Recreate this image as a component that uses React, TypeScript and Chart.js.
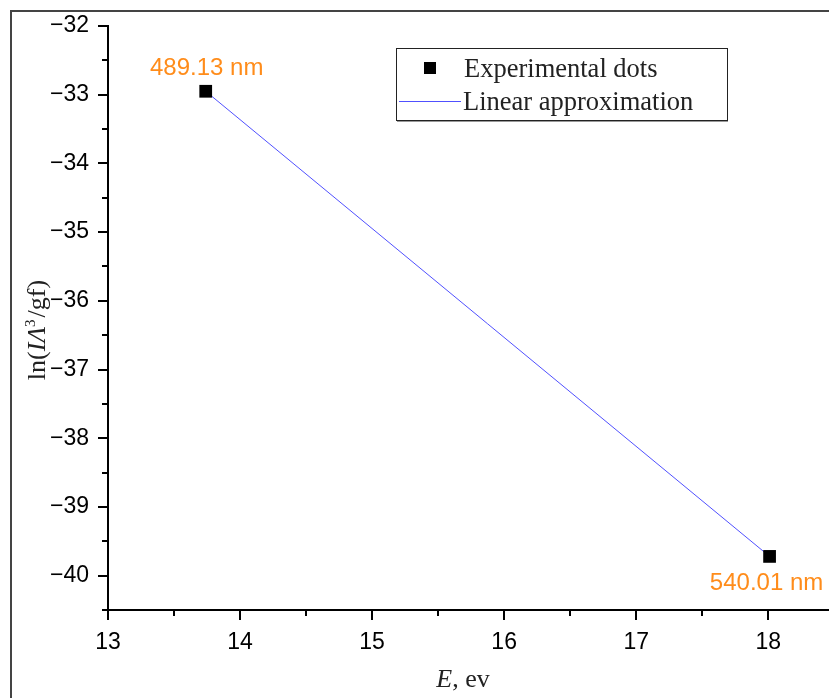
import React, { useEffect, useRef } from "react";
import { Chart, registerables } from "chart.js";

Chart.register(...registerables);

const energies = [13.74, 18.01];
const lnValues = [-32.95, -39.72];
const pointLabels = ["489.13 nm", "540.01 nm"];
const fitX = [13.74, 18.01];
const fitY = [-32.95, -39.72];
const xTicks = [13, 14, 15, 16, 17, 18];
const yTicks = [-40, -39, -38, -37, -36, -35, -34, -33, -32];
const xMinor = [13.5, 14.5, 15.5, 16.5, 17.5];
const yMinor = [-40.5, -39.5, -38.5, -37.5, -36.5, -35.5, -34.5, -33.5, -32.5];
const legendLabels = ["Experimental dots", "Linear approximation"];

const SANS = "'Liberation Sans', Arial, sans-serif";
const SERIF = "'Liberation Serif', 'Times New Roman', serif";
const ORANGE = "#ff8c1a";
const BLUE = "rgb(80,80,255)";

const decor = {
  id: "decor",
  afterDraw(chart: any) {
    const ctx = chart.ctx;
    const xs = chart.scales.x;
    const ys = chart.scales.y;
    const area = chart.chartArea;
    ctx.save();
    // outer frame
    ctx.strokeStyle = "#444";
    ctx.lineWidth = 2;
    ctx.strokeRect(11, 11, 900, 800);
    // minor ticks
    ctx.strokeStyle = "#000";
    ctx.lineWidth = 2;
    ctx.beginPath();
    xMinor.forEach((v) => {
      const px = Math.round(xs.getPixelForValue(v));
      ctx.moveTo(px, area.bottom);
      ctx.lineTo(px, area.bottom + 6);
    });
    yMinor.forEach((v) => {
      const py = Math.round(ys.getPixelForValue(v));
      ctx.moveTo(area.left, py);
      ctx.lineTo(area.left - 6, py);
    });
    ctx.stroke();
    // point labels
    ctx.fillStyle = ORANGE;
    ctx.font = `24px ${SANS}`;
    ctx.textAlign = "center";
    ctx.textBaseline = "alphabetic";
    energies.forEach((e, i) => {
      const px = xs.getPixelForValue(e);
      const py = ys.getPixelForValue(lnValues[i]);
      if (i === 0) ctx.fillText(pointLabels[i], px + 1, py - 16);
      else ctx.fillText(pointLabels[i], px - 3, py + 34);
    });
    // legend
    ctx.fillStyle = "#fff";
    ctx.fillRect(396, 48, 331, 72);
    ctx.strokeStyle = "#222";
    ctx.lineWidth = 1;
    ctx.strokeRect(396.5, 48.5, 331, 72);
    ctx.strokeStyle = "#999";
    ctx.beginPath();
    ctx.moveTo(397, 121.5);
    ctx.lineTo(728, 121.5);
    ctx.stroke();
    ctx.fillStyle = "#000";
    ctx.fillRect(424, 62, 12, 12);
    ctx.strokeStyle = BLUE;
    ctx.lineWidth = 1;
    ctx.beginPath();
    ctx.moveTo(399, 101.5);
    ctx.lineTo(461, 101.5);
    ctx.stroke();
    ctx.fillStyle = "#222";
    ctx.font = `26.5px ${SERIF}`;
    ctx.textAlign = "left";
    ctx.fillText(legendLabels[0], 464, 77);
    ctx.fillText(legendLabels[1], 463, 110);
    // x title
    ctx.fillStyle = "#222";
    ctx.font = `italic 26px ${SERIF}`;
    const eW = ctx.measureText("E").width;
    ctx.font = `26px ${SERIF}`;
    const restW = ctx.measureText(", ev").width;
    const sx = 463 - (eW + restW) / 2;
    ctx.font = `italic 26px ${SERIF}`;
    ctx.fillText("E", sx, 687);
    ctx.font = `26px ${SERIF}`;
    ctx.fillText(", ev", sx + eW, 687);
    // y title
    ctx.translate(45, 330);
    ctx.rotate(-Math.PI / 2);
    const parts: [string, string, number][] = [
      ["ln(", `26px ${SERIF}`, 0],
      ["IΛ", `italic 26px ${SERIF}`, 0],
      ["3", `15px ${SERIF}`, -10],
      ["/gf)", `26px ${SERIF}`, 0],
    ];
    let total = 0;
    parts.forEach((p) => {
      ctx.font = p[1];
      total += ctx.measureText(p[0]).width + (p[0] === "3" ? 2 : 0);
    });
    let cx = -total / 2;
    parts.forEach((p) => {
      ctx.font = p[1];
      ctx.fillText(p[0], cx, p[2]);
      cx += ctx.measureText(p[0]).width + (p[0] === "3" ? 2 : 0);
    });
    ctx.restore();
  },
};

export default function App() {
  const ref = useRef<HTMLCanvasElement | null>(null);
  useEffect(() => {
    if (!ref.current) return;
    const tickFont = { family: SANS, size: 23 };
    const chart = new Chart(ref.current, {
      type: "scatter",
      data: {
        datasets: [
          {
            label: legendLabels[0],
            data: energies.map((x, i) => ({ x, y: lnValues[i] })),
            pointStyle: "rect",
            pointRadius: 9,
            pointHoverRadius: 9,
            backgroundColor: "#000",
            borderColor: "#000",
            borderWidth: 0,
            showLine: false,
            order: 1,
          },
          {
            label: legendLabels[1],
            data: fitX.map((x, i) => ({ x, y: fitY[i] })),
            showLine: true,
            pointRadius: 0,
            borderColor: BLUE,
            borderWidth: 1,
            order: 2,
          } as any,
        ],
      },
      options: {
        animation: false,
        responsive: false,
        layout: { autoPadding: false, padding: { left: 0, top: 26, right: 0, bottom: 0 } },
        plugins: { legend: { display: false }, tooltip: { enabled: false } },
        scales: {
          x: {
            type: "linear",
            min: 13,
            max: 18.46,
            afterBuildTicks: (s: any) => {
              s.ticks = xTicks.map((v) => ({ value: v }));
            },
            afterFit: (s: any) => {
              s.height = 88;
              s.paddingRight = 0;
              s.paddingLeft = 0;
            },
            ticks: { font: tickFont, color: "#000", padding: 9, maxRotation: 0 },
            grid: { display: true, drawOnChartArea: false, drawTicks: true, tickLength: 10, color: "#000", lineWidth: 2 },
            border: { display: true, color: "#000", width: 2 },
          },
          y: {
            type: "linear",
            min: -40.5,
            max: -32,
            afterBuildTicks: (s: any) => {
              s.ticks = yTicks.map((v) => ({ value: v }));
            },
            afterFit: (s: any) => {
              s.width = 108;
            },
            ticks: {
              font: tickFont,
              color: "#000",
              padding: 9,
              callback: (v: any) => (Number(v) < 0 ? "\u2212" + Math.abs(Number(v)) : String(v)),
            },
            grid: { display: true, drawOnChartArea: false, drawTicks: true, tickLength: 10, color: "#000", lineWidth: 2 },
            border: { display: true, color: "#000", width: 2 },
          },
        },
      },
      plugins: [decor],
    });
    return () => chart.destroy();
  }, []);
  return (
    <div style={{ position: "fixed", left: 0, top: 0, width: 829, height: 698, background: "#fff" }}>
      <canvas ref={ref} width={829} height={698} />
    </div>
  );
}
